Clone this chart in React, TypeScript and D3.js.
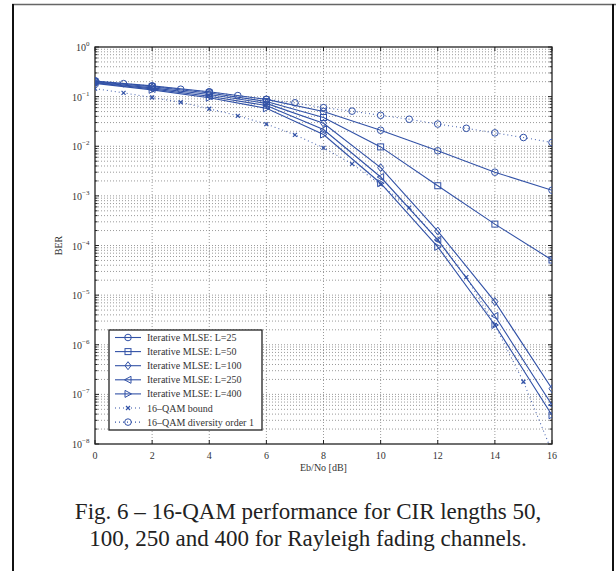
import React from "react";
import * as d3 from "d3";

const snrEven = [0, 2, 4, 6, 8, 10, 12, 14, 16];
const snrAll = [0, 1, 2, 3, 4, 5, 6, 7, 8, 9, 10, 11, 12, 13, 14, 15, 16];

const berL25 = [0.205, 0.165, 0.125, 0.088, 0.05, 0.021, 0.0081, 0.003, 0.0013];
const berL50 = [0.2, 0.158, 0.118, 0.08, 0.038, 0.0097, 0.0016, 0.00027, 0.000051];
const berL100 = [0.195, 0.15, 0.11, 0.073, 0.029, 0.0037, 0.000195, 0.0000074, 0.00000013];
const berL250 = [0.19, 0.143, 0.102, 0.066, 0.0218, 0.0024, 0.00013, 0.0000038, 0.000000061];
const berL400 = [0.185, 0.137, 0.095, 0.058, 0.0172, 0.0018, 0.000094, 0.0000025, 0.000000038];
const berBound = [0.145, 0.119, 0.096, 0.077, 0.057, 0.041, 0.028, 0.017, 0.0093, 0.0044, 0.0017, 0.00058, 0.00013, 0.000023, 0.0000025, 0.00000018, 0.000000007];
const berDiv1 = [0.21, 0.183, 0.163, 0.141, 0.124, 0.105, 0.088, 0.075, 0.06, 0.051, 0.042, 0.035, 0.028, 0.023, 0.0186, 0.015, 0.0119];

const xTicks = [0, 2, 4, 6, 8, 10, 12, 14, 16];
const yExponents = [0, -1, -2, -3, -4, -5, -6, -7, -8];

const legendLabels = [
  "Iterative MLSE: L=25",
  "Iterative MLSE: L=50",
  "Iterative MLSE: L=100",
  "Iterative MLSE: L=250",
  "Iterative MLSE: L=400",
  "16\u2013QAM bound",
  "16\u2013QAM diversity order 1",
];

const captionLines = [
  "Fig. 6 \u2013 16-QAM performance for CIR lengths 50,",
  "100, 250 and 400 for Rayleigh fading channels.",
];

const BLUE = "#3151a6";
const FONT = "'Liberation Serif', 'Times New Roman', Times, serif";

type Marker = "circle" | "square" | "diamond" | "left" | "right" | "x" | "smallcircle";

function MarkerShape({ kind, x, y }: { kind: Marker; x: number; y: number }) {
  const s = { fill: "none", stroke: BLUE, strokeWidth: 1 };
  switch (kind) {
    case "circle":
      return <circle cx={x} cy={y} r={3.3} {...s} />;
    case "smallcircle":
      return <circle cx={x} cy={y} r={3.3} {...s} />;
    case "square":
      return <rect x={x - 3} y={y - 3} width={6} height={6} {...s} />;
    case "diamond":
      return <path d={`M${x},${y - 4}L${x + 3},${y}L${x},${y + 4}L${x - 3},${y}Z`} {...s} />;
    case "left":
      return <path d={`M${x - 3.5},${y}L${x + 3},${y - 3.5}L${x + 3},${y + 3.5}Z`} {...s} />;
    case "right":
      return <path d={`M${x + 3.5},${y}L${x - 3},${y - 3.5}L${x - 3},${y + 3.5}Z`} {...s} />;
    case "x":
      return (
        <path
          d={`M${x - 2},${y - 2}L${x + 2},${y + 2}M${x - 2},${y + 2}L${x + 2},${y - 2}`}
          stroke={BLUE}
          strokeWidth={1.2}
          fill="none"
        />
      );
  }
  return null;
}

export default function App() {
  const left = 95, right = 552, top = 47, bottom = 444;
  const x = d3.scaleLinear().domain([0, 16]).range([left, right]);
  const y = d3.scaleLog().domain([1e-8, 1]).range([bottom, top]);

  const series: { xs: number[]; ys: number[]; marker: Marker; dotted: boolean }[] = [
    { xs: snrEven, ys: berL25, marker: "circle", dotted: false },
    { xs: snrEven, ys: berL50, marker: "square", dotted: false },
    { xs: snrEven, ys: berL100, marker: "diamond", dotted: false },
    { xs: snrEven, ys: berL250, marker: "left", dotted: false },
    { xs: snrEven, ys: berL400, marker: "right", dotted: false },
    { xs: snrAll, ys: berBound, marker: "x", dotted: true },
    { xs: snrAll, ys: berDiv1, marker: "smallcircle", dotted: true },
  ];

  const line = d3
    .line<[number, number]>()
    .x((d) => x(d[0]))
    .y((d) => y(d[1]));

  const minorVals: number[] = [];
  for (let e = -8; e < 0; e++) {
    for (let m = 2; m <= 9; m++) minorVals.push(m * Math.pow(10, e));
  }
  const majorVals = yExponents.map((e) => Math.pow(10, e));

  const gridStyle = { stroke: "#808080", strokeWidth: 0.8, strokeDasharray: "1,2" };

  const legX = 109, legY = 330, legW = 153, legH = 100;
  const legRow = (i: number) => 337.5 + i * 14.1;

  return (
    <svg
      width={616}
      height={571}
      style={{ position: "absolute", left: 0, top: 0, background: "#fff" }}
      fontFamily={FONT}
    >
      <rect x={0} y={0} width={616} height={571} fill="#fff" />
      <line x1={12} y1={4.5} x2={616} y2={4.5} stroke="#666" strokeWidth={1.5} />
      <line x1={13} y1={4} x2={13} y2={571} stroke="#111" strokeWidth={2} />
      <line x1={613} y1={4} x2={613} y2={571} stroke="#111" strokeWidth={2} />

      <defs>
        <clipPath id="plotclip">
          <rect x={left} y={top} width={right - left} height={bottom - top} />
        </clipPath>
      </defs>

      <g>
        {minorVals.concat(majorVals.slice(1, -1)).map((v, i) => (
          <line key={"h" + i} x1={left} x2={right} y1={y(v)} y2={y(v)} {...gridStyle} />
        ))}
        {xTicks.slice(1, -1).map((t) => (
          <line key={"v" + t} x1={x(t)} x2={x(t)} y1={top} y2={bottom} {...gridStyle} />
        ))}
      </g>

      <g stroke="#222" strokeWidth={1}>
        {xTicks.map((t) => (
          <g key={"xt" + t}>
            <line x1={x(t)} x2={x(t)} y1={bottom} y2={bottom - 4} />
            <line x1={x(t)} x2={x(t)} y1={top} y2={top + 4} />
          </g>
        ))}
        {majorVals.map((v, i) => (
          <g key={"ytm" + i}>
            <line x1={left} x2={left + 4} y1={y(v)} y2={y(v)} />
            <line x1={right} x2={right - 4} y1={y(v)} y2={y(v)} />
          </g>
        ))}
        {minorVals.map((v, i) => (
          <g key={"ytn" + i}>
            <line x1={left} x2={left + 2.5} y1={y(v)} y2={y(v)} />
            <line x1={right} x2={right - 2.5} y1={y(v)} y2={y(v)} />
          </g>
        ))}
      </g>

      <rect x={left} y={top} width={right - left} height={bottom - top} fill="none" stroke="#222" strokeWidth={1.3} />

      <g fill="#333" fontSize={10}>
        {xTicks.map((t) => (
          <text key={"xl" + t} x={x(t)} y={bottom + 15} textAnchor="middle">
            {t}
          </text>
        ))}
        {yExponents.map((e) => (
          <text key={"yl" + e} x={e === 0 ? 76 : 72} y={y(Math.pow(10, e)) + 4}>
            10
            <tspan dy={-5} fontSize={7}>
              {e === 0 ? "0" : "\u2212" + Math.abs(e)}
            </tspan>
          </text>
        ))}
        <text x={(left + right) / 2} y={bottom + 27} textAnchor="middle">
          Eb/No [dB]
        </text>
        <text transform={`translate(62,${(top + bottom) / 2}) rotate(-90)`} textAnchor="middle">
          BER
        </text>
      </g>

      <g clipPath="url(#plotclip)">
        {series.map((s, i) => (
          <path
            key={"l" + i}
            d={line(s.xs.map((v, j) => [v, s.ys[j]] as [number, number])) || ""}
            fill="none"
            stroke={BLUE}
            strokeWidth={1.1}
            strokeDasharray={s.dotted ? "1,3" : undefined}
            opacity={s.dotted ? 0.85 : 1}
          />
        ))}
        {series.map((s, i) =>
          s.xs.map((v, j) => (
            <MarkerShape key={"m" + i + "_" + j} kind={s.marker} x={x(v)} y={y(s.ys[j])} />
          ))
        )}
      </g>

      <rect x={legX} y={legY} width={legW} height={legH} fill="#fff" stroke="#222" strokeWidth={1.3} />
      {legendLabels.map((lab, i) => {
        const s = series[i];
        const yy = legRow(i);
        return (
          <g key={"lg" + i}>
            <line
              x1={115}
              x2={141}
              y1={yy}
              y2={yy}
              stroke={BLUE}
              strokeWidth={1.1}
              strokeDasharray={s.dotted ? "1,3" : undefined}
            />
            <MarkerShape kind={s.marker} x={128} y={yy} />
            <text x={147} y={yy + 3.5} fontSize={10} fill="#333">
              {lab}
            </text>
          </g>
        );
      })}

      <g fill="#222" fontSize={23} textAnchor="middle">
        {captionLines.map((c, i) => (
          <text key={"c" + i} x={308} y={519 + i * 27}>
            {c}
          </text>
        ))}
      </g>
    </svg>
  );
}
